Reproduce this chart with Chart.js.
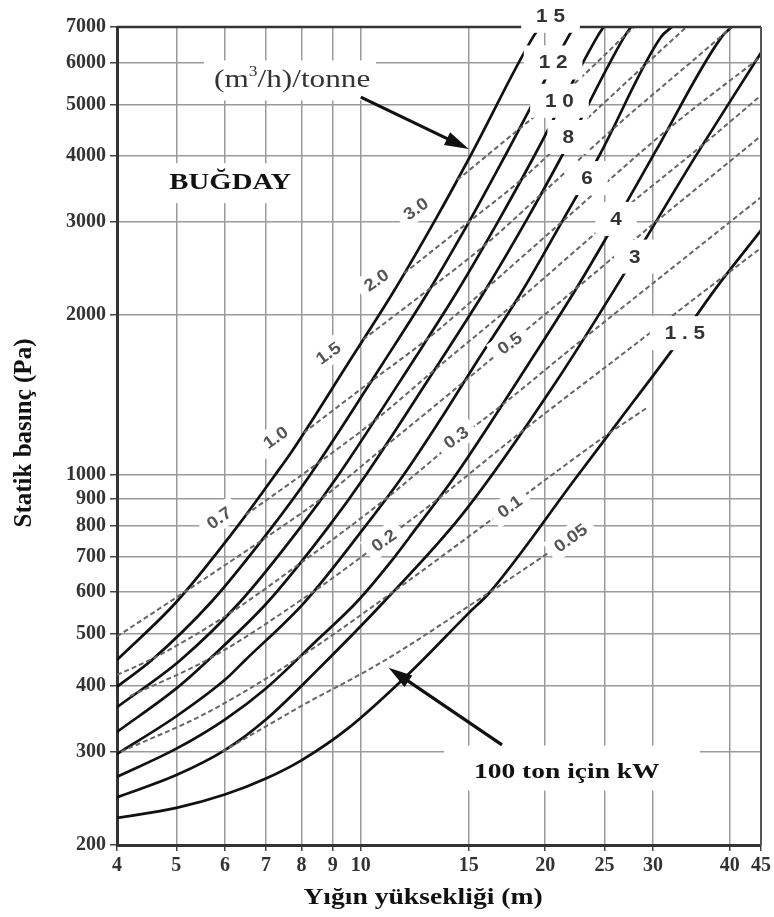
<!DOCTYPE html>
<html><head><meta charset="utf-8">
<script src="https://cdn.jsdelivr.net/npm/chart.js@4.4.1/dist/chart.umd.min.js"></script>
<style>html,body{margin:0;padding:0;background:#fff}#wrap{width:774px;height:917px}</style>
</head><body><div id="wrap"><canvas id="c" width="774" height="917"></canvas></div>
<script>
// ---------- data ----------
const xTicks = [4,5,6,7,8,9,10,15,20,25,30,40,45];
const yTicks = [200,300,400,500,600,700,800,900,1000,2000,3000,4000,5000,6000,7000];

// airflow curves, (m3/h)/tonne : [grain depth m, static pressure Pa]
const flow15  = [[4,447],[5,575],[6.25,791],[7.25,1000],[7.77,1120],[9.53,1622],[11.3,2212],[13.3,3060],[15.1,4000],[19.1,6700],[19.6,7000]];
const flow12  = [[4,398],[4.56,447],[5.7,575],[7.13,791],[8.27,1000],[10.86,1622],[12.88,2212],[15.16,3060],[17.2,4000],[21.8,6700],[22.3,7000]];
const flow10  = [[4,364],[5.08,447],[6.35,575],[7.94,791],[9.2,1000],[12.1,1622],[14.35,2212],[16.9,3060],[19.2,4000],[24.3,6700],[24.9,7000]];
const flow8   = [[4,327],[5,395],[5.64,447],[7.05,575],[8.81,791],[10.2,1000],[13.4,1622],[15.9,2212],[18.75,3060],[21.3,4000],[26.9,6700],[27.6,7000]];
const flow6   = [[4,297],[5,350],[6,410],[6.48,447],[8.1,575],[10.1,791],[11.75,1000],[13.8,1325],[15.4,1622],[18.3,2212],[21.5,3060],[24.5,4000],[30.9,6700],[32.2,7000]];
const flow4   = [[4,269],[5,304],[6,345],[7,395],[8.53,490],[9.85,575],[11.35,699],[12.3,791],[14.3,1000],[18.8,1622],[22.3,2212],[26.3,3060],[30.3,4085],[38.8,6700],[40.3,7000]];
const flow3   = [[4,246],[5,271],[6,302],[7,345],[8.53,430],[10.9,575],[14.7,846],[20.9,1506],[28,2580],[35,3950],[45,6260]];
const flow1_5 = [[4,225],[5,235],[6,249],[7,267],[8,289],[9.53,332],[12,422],[15,548],[16.2,598],[22.5,990],[28,1385],[32,1700],[38,2250],[45,2893]];

// fan power lines, kW per 100 ton
const kw0_05 = [[5.94,300],[8,366],[10.9,445],[16.23,600],[22,760]];
const kw0_1  = [[4.06,300],[5.6,355],[7.89,450],[11.27,600],[17.5,872],[25.5,1200],[29.4,1340]];
const kw0_2  = [[4.2,382],[5.67,450],[8.34,600],[10.9,752],[13.37,900],[18.2,1200],[27,1704],[39.7,2400],[45,2680]];
const kw0_3  = [[4,419],[4.58,450],[6.0,540],[7.89,675],[10.98,900],[14.3,1160],[16.95,1350],[23,1800],[32,2440],[45,3340]];
const kw0_5  = [[4,495],[5.15,600],[6.87,750],[8.61,900],[10.9,1125],[14.76,1500],[17.5,1767],[22.5,2250],[30.3,3000],[45,4360]];
const kw0_7  = [[6.49,840],[8.5,1050],[10.49,1260],[13.18,1575],[17.78,2100],[26.68,3150],[36.2,4200],[45,5200]];
const kw1_0  = [[8.07,1200],[10.39,1500],[12.81,1800],[16.04,2250],[21.29,3000],[31.8,4500],[45,6150]];
const kw1_5  = [[10.09,1800],[12.99,2250],[15.87,2700],[19.65,3375],[25.83,4500],[38.9,6750],[40.3,7000]];
const kw2_0  = [[11.77,2400],[15.0,3000],[18.26,3600],[22.47,4500],[29.4,6000],[34,7000]];
const kw3_0  = [[14.37,3600],[18.16,4500],[22.02,5400],[27.0,6750],[27.9,7000]];

// curve labels: [text, x, y]
const flowLabels = [["1 5",20.4,7350],["1 2",20.6,6000],["1 0",21.1,5080],["8",21.8,4340],["6",23.4,3630],["4",26.1,3040],["3",28.0,2580],["1 . 5",33.8,1850]];
const kwLabelsLeft = [["0.7",5.87,829],["1.0",7.26,1176],["1.5",8.85,1696],["2.0",10.6,2330],["3.0",12.3,3180]];
const kwLabelsMid  = [["0.2",10.9,752],["0.3",14.3,1176],["0.5",17.5,1772],["0.1",17.5,871],["0.05",22.0,760]];

const flowSets = [flow15,flow12,flow10,flow8,flow6,flow4,flow3,flow1_5];
const kwSets = [kw0_05,kw0_1,kw0_2,kw0_3,kw0_5,kw0_7,kw1_0,kw1_5,kw2_0,kw3_0];

const toPts = a => a.map(p => ({x:p[0], y:p[1]}));
const datasets = [];
kwSets.forEach(s => datasets.push({data:toPts(s), showLine:true, borderColor:'#666', borderWidth:2, borderDash:[5,3], pointRadius:0, cubicInterpolationMode:'monotone', fill:false}));
flowSets.forEach(s => datasets.push({data:toPts(s), showLine:true, borderColor:'#111', borderWidth:2.7, pointRadius:0, cubicInterpolationMode:'monotone', fill:false}));

const serif = '"Liberation Serif","Times New Roman",serif';
const sans = '"Liberation Sans",Arial,sans-serif';
const SX = 1.25; // horizontal stretch of the printed text

const overlay = {
  id:'overlay',
  afterDatasetsDraw(chart){
    const {ctx, chartArea:a, scales:{x, y}} = chart;
    const px = v => x.getPixelForValue(v), py = v => y.getPixelForValue(v);
    ctx.save();
    // frame
    ctx.strokeStyle = '#333'; ctx.lineWidth = 2.5;
    ctx.beginPath(); ctx.moveTo(a.left, a.top); ctx.lineTo(a.right, a.top); ctx.stroke();
    ctx.strokeStyle = '#555'; ctx.lineWidth = 2;
    ctx.beginPath(); ctx.moveTo(a.right, a.top); ctx.lineTo(a.right, a.bottom); ctx.stroke();

    function text(t, xx, yy, font, color, align, rot, sx){
      ctx.save(); ctx.translate(xx, yy); ctx.rotate(rot||0); ctx.scale(sx||1, 1);
      ctx.font = font; ctx.fillStyle = color; ctx.textAlign = align||'center'; ctx.textBaseline='middle';
      ctx.fillText(t, 0, 0); ctx.restore();
    }
    function boxLabel(t, xx, yy, font, color, rot, sx, padX, h){
      ctx.save(); ctx.translate(xx, yy); ctx.rotate(rot||0); ctx.scale(sx||1,1);
      ctx.font = font; const w = ctx.measureText(t).width;
      ctx.fillStyle = '#fff'; ctx.fillRect(-w/2-padX, -h/2, w+2*padX, h);
      ctx.fillStyle = color; ctx.textAlign='center'; ctx.textBaseline='middle';
      ctx.fillText(t, 0, 1); ctx.restore();
    }
    flowLabels.forEach(l => boxLabel(l[0], px(l[1]), py(l[2]), 'bold 18px '+sans, '#333', 0, 1.15, 13, 34));
    kwLabelsLeft.forEach(l => boxLabel(l[0], px(l[1]), py(l[2]), 'bold 17px '+sans, '#555', -0.62, 1.1, 7, 24));
    kwLabelsMid.forEach(l => boxLabel(l[0], px(l[1]), py(l[2]), 'bold 17px '+sans, '#555', -0.62, 1.1, 7, 24));

    // (m3/h)/tonne
    const tx = px(5.76), ty = py(5550);
    ctx.fillStyle = '#fff'; ctx.fillRect(tx-10, ty-20, 172, 40);
    ctx.save(); ctx.translate(tx, ty); ctx.scale(SX,1);
    ctx.fillStyle = '#333'; ctx.textBaseline='middle'; ctx.textAlign='left';
    ctx.font = '25px '+serif; ctx.fillText('(m', 0, 0);
    let w1 = ctx.measureText('(m').width;
    ctx.font = '14px '+serif; ctx.fillText('3', w1, -8);
    let w2 = ctx.measureText('3').width;
    ctx.font = '25px '+serif; ctx.fillText('/h)/tonne', w1+w2, 0);
    ctx.restore();
    // BUĞDAY
    const bx = px(4.87), by = py(3550);
    ctx.fillStyle = '#fff'; ctx.fillRect(bx-6, by-20, 128, 40);
    text('BUĞDAY', bx, by, 'bold 23px '+serif, '#111', 'left', 0, SX);
    // 100 ton için kW
    const kx = px(15.3), ky = py(274);
    ctx.fillStyle = '#fff'; ctx.fillRect(kx-30, ky-27, 256, 45);
    text('100 ton için kW', kx, ky, 'bold 22px '+serif, '#111', 'left', 0, SX);

    // arrows
    function arrow(x0,y0,x1,y1){
      ctx.strokeStyle='#111'; ctx.fillStyle='#111'; ctx.lineWidth=3.2;
      const ang = Math.atan2(y1-y0, x1-x0), L=24, W=7;
      ctx.beginPath(); ctx.moveTo(x0,y0); ctx.lineTo(x1-10*Math.cos(ang), y1-10*Math.sin(ang)); ctx.stroke();
      ctx.beginPath(); ctx.moveTo(x1,y1);
      ctx.lineTo(x1-L*Math.cos(ang)+W*Math.sin(ang), y1-L*Math.sin(ang)-W*Math.cos(ang));
      ctx.lineTo(x1-L*Math.cos(ang)-W*Math.sin(ang), y1-L*Math.sin(ang)+W*Math.cos(ang));
      ctx.closePath(); ctx.fill();
    }
    arrow(px(10.0), py(5160), px(15.0), py(4120));
    arrow(px(17.0), py(309), px(11.1), py(432));

    // axis titles
    text('Yığın yüksekliği (m)', 423, 898, 'bold 23px '+serif, '#111', 'center', 0, 1.2);
    text('Statik basınç (Pa)', 25, 433, 'bold 25px '+serif, '#111', 'center', -Math.PI/2, 1);
    ctx.restore();
  }
};

new Chart(document.getElementById('c'), {
  type:'scatter',
  data:{datasets},
  options:{
    responsive:false, animation:false, devicePixelRatio:1,
    layout:{padding:{left:0, right:7, top:27, bottom:0}},
    plugins:{legend:{display:false}, tooltip:{enabled:false}},
    scales:{
      x:{type:'logarithmic', min:4, max:45,
         afterBuildTicks: s => { s.ticks = xTicks.map(v => ({value:v})); },
         afterFit: s => { s.height = 72; },
         ticks:{autoSkip:false, maxRotation:0, padding:3, color:'#333', font:{family:serif, size:20, weight:'bold'}, callback:v => String(v)},
         grid:{color:'#9a9a9a', lineWidth:1.5, tickLength:6, tickColor:'#444'},
         border:{color:'#333', width:3}},
      y:{type:'logarithmic', min:200, max:7000,
         afterBuildTicks: s => { s.ticks = yTicks.map(v => ({value:v})); },
         afterFit: s => { s.width = 117; },
         ticks:{autoSkip:false, padding:4, color:'#333', font:{family:serif, size:20, weight:'bold'}, callback:v => String(v)},
         grid:{color:'#9a9a9a', lineWidth:1.5, tickLength:7, tickColor:'#444'},
         border:{color:'#333', width:3}}
    }
  },
  plugins:[overlay]
});
</script></body></html>
